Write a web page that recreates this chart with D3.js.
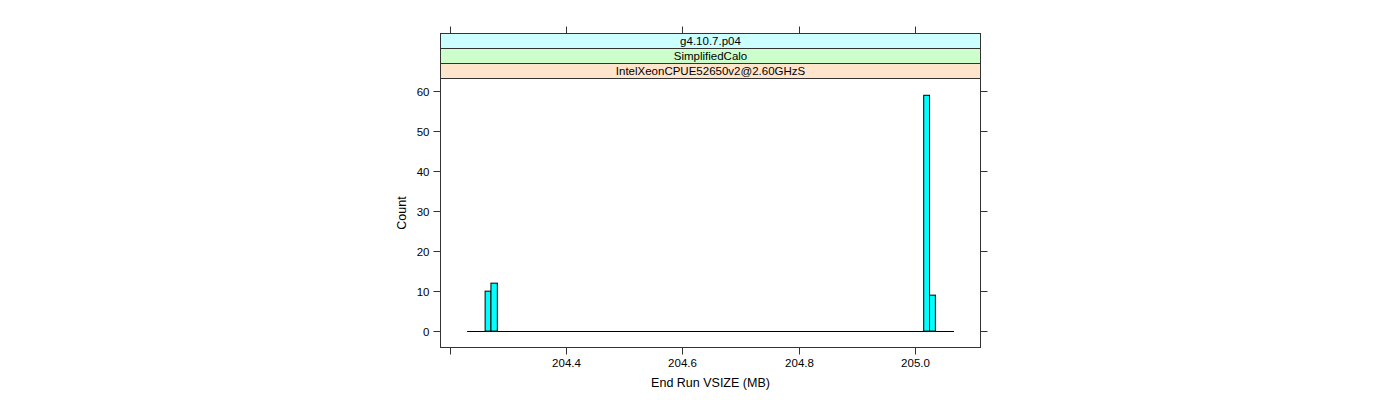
<!DOCTYPE html>
<html><head><meta charset="utf-8">
<script src="https://cdn.jsdelivr.net/npm/d3@7"></script>
<style>body{margin:0;background:#fff}svg{display:block}text{font-family:"Liberation Sans",Arial,sans-serif}</style>
</head><body><svg id="c" width="1400" height="400"></svg>
<script>
const binStarts = [204.261, 204.271, 205.015, 205.025];
const binEnds   = [204.271, 204.282, 205.025, 205.035];
const counts    = [10, 12, 59, 9];
const histRange = [204.230, 205.067];
const xTicks = [204.2, 204.4, 204.6, 204.8, 205.0];
const xTickLabels = ["", "204.4", "204.6", "204.8", "205.0"];
const yTicks = [0, 10, 20, 30, 40, 50, 60];
const strips = ["g4.10.7.p04", "SimplifiedCalo", "IntelXeonCPUE52650v2@2.60GHzS"];
const stripColors = ["#ccffff", "#ccffcc", "#ffe5cc"];

const svg = d3.select("#c");
const L = 440.5, R = 980.5, T = 78.5, B = 347.5;
const x = d3.scaleLinear().domain([204.1843, 205.1126]).range([L, R]);
const y = d3.scaleLinear().domain([-4.1, 63.2]).range([B, T]);
const axCol = "#333";

// strips
const sh = 15;
strips.forEach((s, i) => {
  const top = T - sh * (strips.length - i);
  svg.append("rect").attr("x", L).attr("y", top).attr("width", R - L).attr("height", sh)
    .attr("fill", stripColors[i]).attr("stroke", axCol).attr("stroke-width", 1);
  svg.append("text").attr("x", (L + R) / 2).attr("y", top + sh / 2 + 4).attr("text-anchor", "middle")
    .attr("font-size", 11.5).attr("fill", "#000").text(s);
});
const stripTop = T - sh * strips.length;

// panel
svg.append("rect").attr("x", L).attr("y", T).attr("width", R - L).attr("height", B - T)
  .attr("fill", "none").attr("stroke", axCol);

// ticks
const tl = 7;
xTicks.forEach((v, i) => {
  const px = Math.round(x(v)) + 0.5;
  svg.append("line").attr("x1", px).attr("x2", px).attr("y1", B).attr("y2", B + tl).attr("stroke", axCol);
  svg.append("line").attr("x1", px).attr("x2", px).attr("y1", stripTop).attr("y2", stripTop - tl).attr("stroke", axCol);
  if (xTickLabels[i]) svg.append("text").attr("x", px).attr("y", B + 19).attr("text-anchor", "middle")
    .attr("font-size", 11.5).text(xTickLabels[i]);
});
yTicks.forEach(v => {
  const py = Math.round(y(v)) + 0.5;
  svg.append("line").attr("x1", L).attr("x2", L - tl).attr("y1", py).attr("y2", py).attr("stroke", axCol);
  svg.append("line").attr("x1", R).attr("x2", R + tl).attr("y1", py).attr("y2", py).attr("stroke", axCol);
  svg.append("text").attr("x", L - 11).attr("y", py + 4).attr("text-anchor", "end")
    .attr("font-size", 11.5).text(v);
});

// baseline of histogram
svg.append("line").attr("x1", x(histRange[0])).attr("x2", x(histRange[1]))
  .attr("y1", Math.round(y(0)) + 0.5).attr("y2", Math.round(y(0)) + 0.5).attr("stroke", "#000");

// bars
counts.forEach((c, i) => {
  const x0 = x(binStarts[i]), x1 = x(binEnds[i]);
  svg.append("rect").attr("x", x0).attr("width", x1 - x0)
    .attr("y", y(c)).attr("height", y(0) - y(c))
    .attr("fill", "#00ffff").attr("stroke", "#000").attr("stroke-width", 1);
});

// axis titles
svg.append("text").attr("x", (L + R) / 2).attr("y", 387).attr("text-anchor", "middle")
  .attr("font-size", 12.5).text("End Run VSIZE (MB)");
svg.append("text").attr("transform", `translate(406,${(T + B) / 2}) rotate(-90)`)
  .attr("text-anchor", "middle").attr("font-size", 12.5).text("Count");
</script></body></html>
